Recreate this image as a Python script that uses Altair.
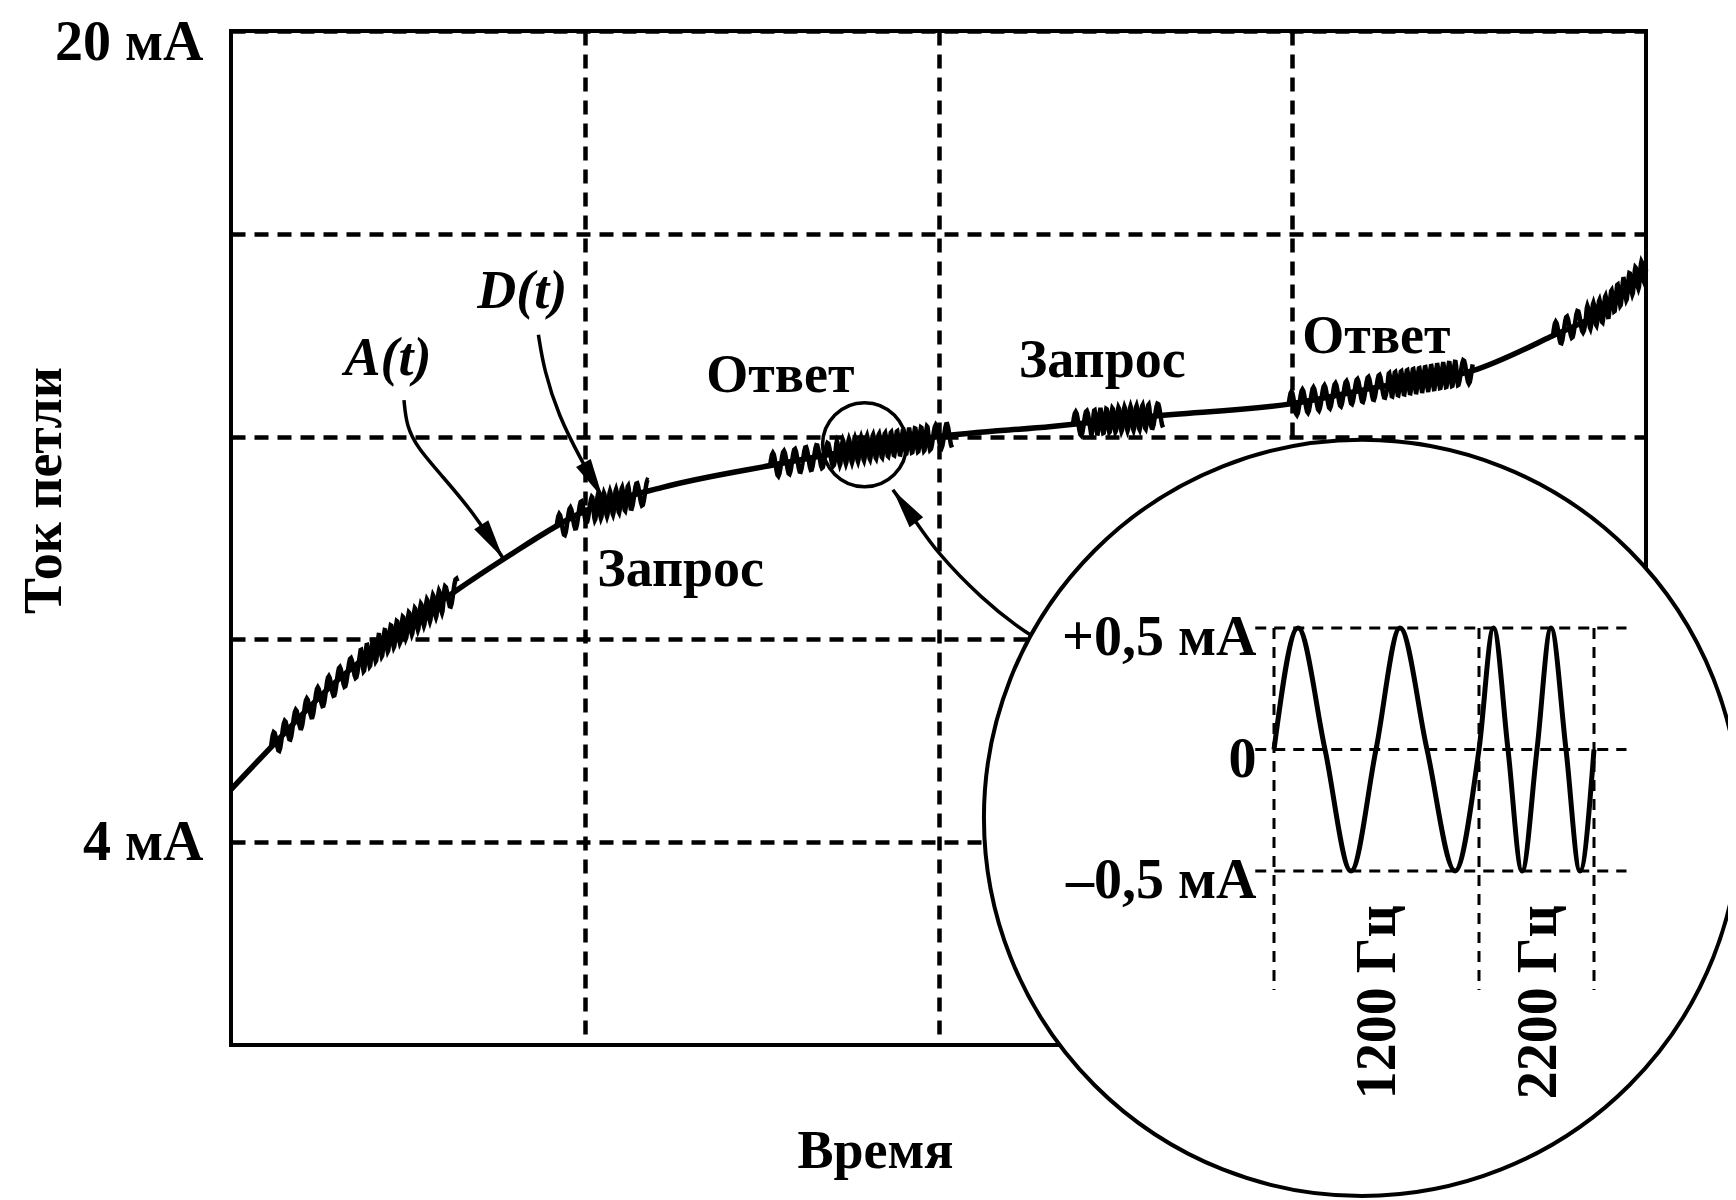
import altair as alt
import numpy as np
import pandas as pd

FONT = "Liberation Serif"

# ---------------- data ----------------
# Analog loop current A(t): time in grid divisions, current in mA
curve_t = [0.0, 0.125, 0.28, 0.44, 0.63, 0.77, 1.0, 1.22, 1.54, 1.8, 2.0, 2.32, 2.6,
           3.0, 3.26, 3.51, 3.73, 3.88, 4.0]
curve_ma = [5.04, 5.96, 7.06, 7.98, 8.93, 9.58, 10.53, 11.0, 11.45, 11.78, 12.0, 12.2, 12.4,
            12.65, 13.0, 13.3, 13.97, 14.5, 15.3]

# FSK bursts D(t) riding on A(t): segment start / end (time), tone, burst number
seg_start = [0.113, 0.365, 0.605, 0.92, 1.02, 1.13, 1.524, 1.707, 1.976,
             2.38, 2.43, 2.60, 2.99, 3.27, 3.47, 3.737, 3.83]
seg_end = [0.365, 0.605, 0.64, 1.02, 1.13, 1.18, 1.707, 1.976, 2.038,
           2.43, 2.60, 2.635, 3.27, 3.47, 3.51, 3.83, 4.0]
seg_tone = ["1200", "2200", "1200", "1200", "2200", "1200", "1200", "2200", "1200",
            "1200", "2200", "1200", "1200", "2200", "1200", "1200", "2200"]
seg_burst = [1, 1, 1, 2, 2, 2, 3, 3, 3, 4, 4, 4, 5, 5, 5, 6, 6]
tone_period = {"1200": 0.031, "2200": 0.017}
wiggle_amp = 0.24

y_tick_values = [4, 8, 12, 16, 20]
x_grid_values = [1, 2, 3]

note_text = ["Ответ", "Запрос", "Ответ", "Запрос"]
note_t = [1.553, 2.463, 3.238, 1.271]
note_ma = [13.2, 13.49, 13.97, 9.36]

sig_text = ["A(t)", "D(t)"]
sig_t = [0.444, 0.823]
sig_ma = [13.53, 14.85]

arrow_id = ["A"] * 6 + ["D"] * 5 + ["Z"] * 6
arrow_t = [0.489, 0.496, 0.527, 0.596, 0.690, 0.769,
           0.869, 0.885, 0.925, 0.988, 1.051,
           2.273, 2.225, 2.126, 1.996, 1.928, 1.871]
arrow_ma = [12.72, 12.21, 11.78, 11.23, 10.46, 9.60,
            14.01, 13.31, 12.43, 11.56, 10.79,
            8.03, 8.24, 8.78, 9.70, 10.41, 10.95]
head_t = [0.769, 1.051, 1.871]
head_ma = [9.60, 10.79, 10.95]
head_angle = [147, 151, 324]

zoom_t = [1.791]
zoom_ma = [11.84]
inset_t = [3.197]
inset_ma = [4.48]

# Inset: FSK signal, time in ms, current in mA
sine_ms = [0, 0.192, 0.408, 0.616, 0.816, 1.008, 1.224, 1.448, 1.64,
           1.756, 1.872, 1.984, 2.104, 2.216, 2.336, 2.448, 2.56]
sine_ma = [0, 0.5, 0, -0.5, 0, 0.5, 0, -0.5, 0,
           0.5, 0, -0.5, 0, 0.5, 0, -0.5, 0]
level_ma = [0.5, 0.0, -0.5]
level_label = ["+0,5 мА", "0", "–0,5 мА"]
divider_ms = [0.0, 1.64, 2.56]
freq_label = ["1200 Гц", "2200 Гц"]
freq_ms = [0.83, 2.12]

# ---------------- tables ----------------
curve_df = pd.DataFrame({"t": curve_t, "mA": curve_ma})

rows = []
for b in sorted(set(seg_burst)):
    phase = 0.0
    for s, e, tone, bb in zip(seg_start, seg_end, seg_tone, seg_burst):
        if bb != b:
            continue
        P = tone_period[tone]
        n = max(int((e - s) / P * 12), 2)
        for tt in np.linspace(s, e, n + 1):
            ph = phase + 2 * np.pi * (tt - s) / P
            rows.append({"t": float(tt),
                         "mA": float(np.interp(tt, curve_t, curve_ma) + wiggle_amp * np.sin(ph)),
                         "burst": b, "k": len(rows)})
        phase += 2 * np.pi * (e - s) / P
wiggle_df = pd.DataFrame(rows)

note_df = pd.DataFrame({"t": note_t, "mA": note_ma, "txt": note_text})
sig_df = pd.DataFrame({"t": sig_t, "mA": sig_ma, "txt": sig_text})
arrow_df = pd.DataFrame({"id": arrow_id, "t": arrow_t, "mA": arrow_ma, "k": list(range(len(arrow_t)))})
head_df = pd.DataFrame({"t": head_t, "mA": head_ma, "angle": head_angle})
zoom_df = pd.DataFrame({"t": zoom_t, "mA": zoom_ma})
inset_df = pd.DataFrame({"t": inset_t, "mA": inset_ma})

sine_df = pd.DataFrame({"ms": sine_ms, "v": sine_ma})
hline_df = pd.DataFrame({"v": level_ma, "ms0": [-0.15] * 3, "ms1": [2.82] * 3})
vline_df = pd.DataFrame({"ms": divider_ms, "v0": [0.5] * 3, "v1": [-0.99] * 3})
level_df = pd.DataFrame({"v": level_ma, "ms": [-0.14] * 3, "txt": level_label})
freq_df = pd.DataFrame({"ms": freq_ms, "v": [-1.04] * 2, "txt": freq_label})

# ---------------- scales & axes ----------------
XS = alt.Scale(domain=[0, 4], nice=False, zero=False)
YS = alt.Scale(domain=[0, 20], nice=False, zero=False)
XI = alt.Scale(domain=[0, 2.56], range=[1043, 1363], nice=False, zero=False)
YI = alt.Scale(domain=[-0.5, 0.5], range=[840, 597], nice=False, zero=False)

x_axis = alt.Axis(values=x_grid_values, grid=True, gridDash=[14, 9], gridWidth=4.5,
                  gridColor="black", gridOpacity=1, labels=False, ticks=False, domain=False,
                  title="Время", titleFont=FONT, titleFontSize=54, titleFontWeight="bold",
                  titleColor="black", titleX=644, titleY=106, titleAlign="center",
                  titleBaseline="middle")
y_axis = alt.Axis(values=y_tick_values, grid=True, gridDash=[14, 9], gridWidth=4.5,
                  gridColor="black", gridOpacity=1, ticks=False, domain=False,
                  labelExpr="datum.value == 20 ? '20 мА' : (datum.value == 4 ? '4 мА' : '')",
                  labelFont=FONT, labelFontSize=56, labelFontWeight="bold", labelColor="black",
                  labelPadding=28, labelOverlap=False, labelBaseline="middle",
                  labelOffset={"condition": {"test": "datum.value == 20", "value": 11}, "value": 0},
                  title="Ток петли", titleFont=FONT, titleFontSize=54, titleFontWeight="bold",
                  titleColor="black", titleX=-187, titleY=459, titleAngle=270,
                  titleAlign="center", titleBaseline="middle")


def mx():
    return alt.X("t:Q", scale=XS, axis=x_axis, title="Время")


def my():
    return alt.Y("mA:Q", scale=YS, axis=y_axis, title="Ток петли")


curve = alt.Chart(curve_df).mark_line(interpolate="monotone", strokeWidth=5.5, color="black").encode(
    x=mx(), y=my())
wiggle = alt.Chart(wiggle_df).mark_line(strokeWidth=4.5, color="black").encode(
    x=mx(), y=my(), detail="burst:N", order="k:Q")
arrows = alt.Chart(arrow_df).mark_line(interpolate="basis", strokeWidth=3.5, color="black").encode(
    x=mx(), y=my(), detail="id:N", order="k:Q")
heads = alt.Chart(head_df).mark_point(shape="M0,0L0.42,2L-0.42,2Z", size=1600, filled=True,
                                      color="black", opacity=1).encode(
    x=mx(), y=my(), angle=alt.Angle("angle:Q", scale=None))
small = alt.Chart(zoom_df).mark_point(shape="circle", size=7056, filled=False, stroke="black",
                                      strokeWidth=3.5, opacity=1).encode(x=mx(), y=my())
notes = alt.Chart(note_df).mark_text(font=FONT, fontSize=54, fontWeight="bold", color="black",
                                     align="center", baseline="middle").encode(
    x=mx(), y=my(), text="txt:N")
sigs = alt.Chart(sig_df).mark_text(font=FONT, fontSize=54, fontWeight="bold", fontStyle="italic",
                                   color="black", align="center", baseline="middle").encode(
    x=mx(), y=my(), text="txt:N")
big = alt.Chart(inset_df).mark_point(shape="circle", size=571536, filled=True, fill="white",
                                     stroke="black", strokeWidth=4, opacity=1).encode(x=mx(), y=my())

main = alt.layer(curve, wiggle, arrows, heads, small, notes, sigs, big)

hl = alt.Chart(hline_df).mark_rule(strokeDash=[11, 8], strokeWidth=3, color="black").encode(
    x=alt.X("ms0:Q", scale=XI, axis=None), x2="ms1:Q", y=alt.Y("v:Q", scale=YI, axis=None))
vl = alt.Chart(vline_df).mark_rule(strokeDash=[11, 8], strokeWidth=3, color="black").encode(
    x=alt.X("ms:Q", scale=XI, axis=None), y=alt.Y("v0:Q", scale=YI, axis=None), y2="v1:Q")
sine = alt.Chart(sine_df).mark_line(interpolate="monotone", strokeWidth=5, color="black").encode(
    x=alt.X("ms:Q", scale=XI, axis=None), y=alt.Y("v:Q", scale=YI, axis=None))
lev = alt.Chart(level_df).mark_text(font=FONT, fontSize=56, fontWeight="bold", color="black",
                                    align="right", baseline="middle", dy=10).encode(
    x=alt.X("ms:Q", scale=XI, axis=None), y=alt.Y("v:Q", scale=YI, axis=None), text="txt:N")
freq = alt.Chart(freq_df).mark_text(font=FONT, fontSize=56, fontWeight="bold", color="black",
                                    align="center", baseline="middle", angle=270).encode(
    x=alt.X("ms:Q", scale=XI, axis=None), y=alt.Y("v:Q", scale=YI, axis=None), text="txt:N")

inset = alt.layer(hl, vl, sine, lev, freq)

chart = alt.layer(main, inset).resolve_scale(x="independent", y="independent").properties(
    width=1415, height=1014,
    autosize=alt.AutoSizeParams(type="none"),
    padding={"left": 223, "top": 23, "right": 82, "bottom": 155},
    background="white",
).configure_view(stroke="black", strokeWidth=4)

chart.save("out.html", embed_options={"renderer": "svg", "actions": False})
